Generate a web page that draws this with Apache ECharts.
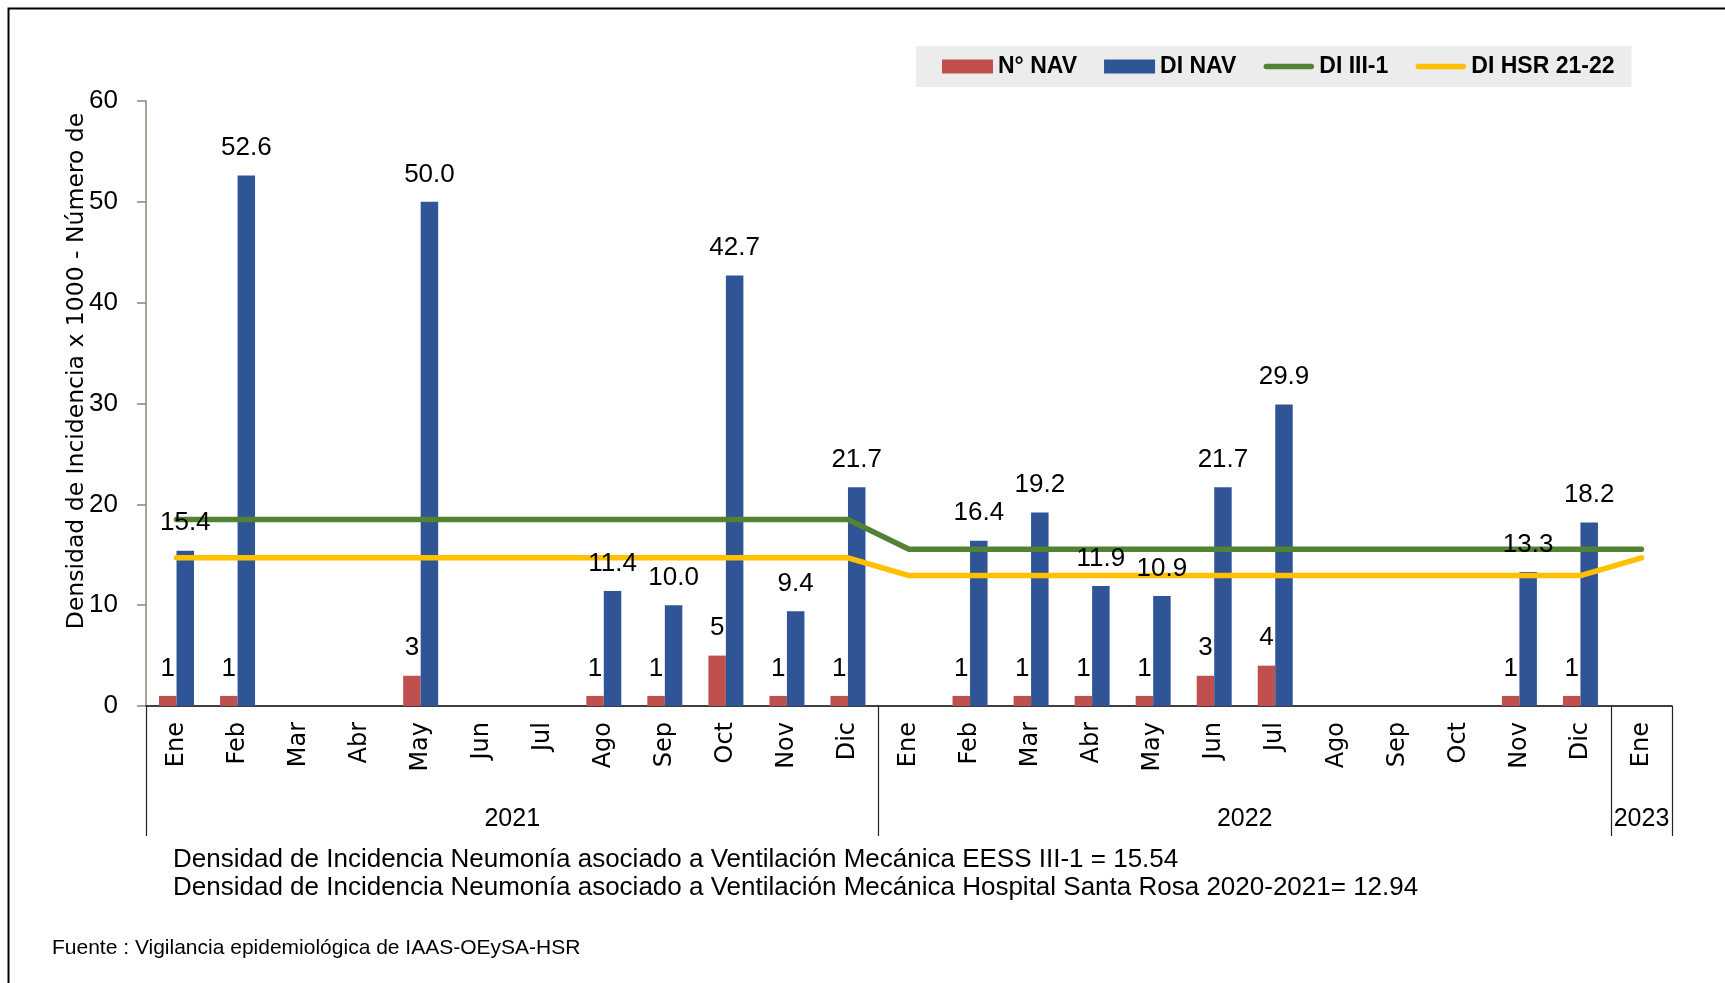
<!DOCTYPE html>
<html>
<head>
<meta charset="utf-8">
<title>Densidad de Incidencia NAV</title>
<script src="https://cdn.jsdelivr.net/npm/echarts@6/dist/echarts.min.js"></script>
<style>
html, body { margin: 0; padding: 0; background: #fff; }
#chart { width: 1725px; height: 983px; }
</style>
</head>
<body>
<div id="chart"></div>
<script>
// meses (eje de categorias) y grupos por año
const months = [
  'Ene', 'Feb', 'Mar', 'Abr', 'May', 'Jun', 'Jul', 'Ago', 'Sep', 'Oct', 'Nov', 'Dic',
  'Ene', 'Feb', 'Mar', 'Abr', 'May', 'Jun', 'Jul', 'Ago', 'Sep', 'Oct', 'Nov', 'Dic',
  'Ene',
]
const years = ['2021', '2022', '2023']
const yearMonths = [12, 12, 1]

// N° NAV
const navCount = [
  1, 1, null, null, 3, null, null, 1, 1, 5, 1, 1,
  null, 1, 1, 1, 1, 3, 4, null, null, null, 1, 1,
  null,
]
// DI NAV
const diNav = [
  15.4, 52.6, null, null, 50.0, null, null, 11.4, 10.0, 42.7, 9.4, 21.7,
  null, 16.4, 19.2, 11.9, 10.9, 21.7, 29.9, null, null, null, 13.3, 18.2,
  null,
]
// DI III-1
const diIII1 = [
  18.5, 18.5, 18.5, 18.5, 18.5, 18.5, 18.5, 18.5, 18.5, 18.5, 18.5, 18.5,
  15.54, 15.54, 15.54, 15.54, 15.54, 15.54, 15.54, 15.54, 15.54, 15.54, 15.54, 15.54,
  15.54,
]
// DI HSR 21-22
const diHsr = [
  14.7, 14.7, 14.7, 14.7, 14.7, 14.7, 14.7, 14.7, 14.7, 14.7, 14.7, 14.7,
  12.94, 12.94, 12.94, 12.94, 12.94, 12.94, 12.94, 12.94, 12.94, 12.94, 12.94, 12.94,
  14.7,
]

const yMin = 0
const yMax = 60
const yStep = 10

const notes = [
  'Densidad de Incidencia Neumonía asociado a Ventilación Mecánica EESS III-1 = 15.54',
  'Densidad de Incidencia Neumonía asociado a Ventilación Mecánica Hospital Santa Rosa 2020-2021= 12.94',
]
const source = 'Fuente : Vigilancia epidemiológica de IAAS-OEySA-HSR'

// inicio y centro de cada año en unidades de categoria
const yearStart = []
const yearMid = []
let acc = 0
yearMonths.forEach((n) => {
  yearStart.push(acc)
  yearMid.push(acc + n / 2)
  acc += n
})

const numFont = 'Liberation Sans, Arial, sans-serif'
const wideFont = 'DejaVu Sans, Verdana, sans-serif'
const barW = 17.5
// icono de linea gruesa con extremos redondos (caja 51 x 14)
const lineIcon = 'path://M0,0M51,14M3,4.25h45a2.75,2.75 0 0 1 0,5.5h-45a2.75,2.75 0 0 1 0,-5.5z'

const labelStyle = {
  show: true,
  position: 'top',
  distance: 14,
  fontFamily: numFont,
  fontSize: 26,
  color: '#000',
}

const option = {
  animation: false,
  backgroundColor: '#fff',
  legend: {
    left: 916,
    top: 46,
    padding: [9, 17, 9, 26],
    backgroundColor: '#ECECEC',
    itemWidth: 51,
    itemHeight: 14,
    itemGap: 27,
    textStyle: {
      fontFamily: numFont,
      fontWeight: 'bold',
      fontSize: 23,
      color: '#000',
    },
    data: [
      { name: 'N° NAV', icon: 'rect' },
      { name: 'DI NAV', icon: 'rect' },
      { name: 'DI III-1', icon: lineIcon },
      { name: 'DI HSR 21-22', icon: lineIcon },
    ],
  },
  grid: {
    left: 146,
    right: 53,
    top: 101,
    bottom: 277,
  },
  xAxis: [
    {
      type: 'category',
      data: months,
      axisLine: { lineStyle: { color: '#000', width: 1.5 } },
      axisTick: {
        show: true,
        length: 130,
        interval: index => yearStart.includes(index),
        lineStyle: { color: '#222', width: 1.2 },
      },
      axisLabel: {
        rotate: 90,
        interval: 0,
        margin: 16,
        fontFamily: wideFont,
        fontSize: 24,
        color: '#000',
      },
    },
    {
      type: 'value',
      position: 'bottom',
      min: 0,
      max: months.length,
      interval: 0.5,
      axisLine: { show: false },
      axisTick: { show: false },
      splitLine: { show: false },
      axisLabel: {
        margin: 101,
        fontFamily: numFont,
        fontSize: 25,
        color: '#000',
        showMinLabel: true,
        showMaxLabel: true,
        formatter: (v) => {
          const i = yearMid.indexOf(v)
          return i >= 0 ? years[i] : ''
        },
      },
    },
  ],
  yAxis: {
    type: 'value',
    min: yMin,
    max: yMax,
    interval: yStep,
    axisLine: { show: true, lineStyle: { color: '#878778', width: 1.5 } },
    axisTick: { show: true, length: 9, lineStyle: { color: '#878778', width: 1.5 } },
    splitLine: { show: false },
    axisLabel: {
      margin: 28,
      fontFamily: numFont,
      fontSize: 26,
      color: '#000',
    },
  },
  series: [
    {
      name: 'N° NAV',
      type: 'bar',
      barWidth: barW,
      barGap: '0%',
      itemStyle: { color: '#C0504D' },
      data: navCount,
    },
    {
      name: 'DI NAV',
      type: 'bar',
      barWidth: barW,
      barGap: '0%',
      itemStyle: { color: '#2F5597' },
      data: diNav,
    },
    {
      name: 'DI III-1',
      type: 'line',
      symbol: 'none',
      z: 3,
      itemStyle: { color: '#548235' },
      lineStyle: { color: '#548235', width: 5.5, cap: 'round', join: 'round' },
      data: diIII1,
    },
    {
      name: 'DI HSR 21-22',
      type: 'line',
      symbol: 'none',
      z: 3,
      itemStyle: { color: '#FFC000' },
      lineStyle: { color: '#FFC000', width: 5.5, cap: 'round', join: 'round' },
      data: diHsr,
    },
    // etiquetas de las barras, por encima de las lineas
    {
      name: 'N° NAV etiquetas',
      type: 'scatter',
      silent: true,
      z: 5,
      symbolSize: 1,
      itemStyle: { color: 'rgba(0,0,0,0)', opacity: 1 },
      label: { ...labelStyle, offset: [-barW / 2, 0] },
      data: navCount,
    },
    {
      name: 'DI NAV etiquetas',
      type: 'scatter',
      silent: true,
      z: 5,
      symbolSize: 1,
      itemStyle: { color: 'rgba(0,0,0,0)', opacity: 1 },
      label: { ...labelStyle, offset: [barW / 2, 0], formatter: p => p.value.toFixed(1) },
      data: diNav,
    },
  ],
  graphic: [
    {
      type: 'rect',
      silent: true,
      shape: { x: 8.5, y: 8.5, width: 2000, height: 2000 },
      style: { fill: 'none', stroke: '#000', lineWidth: 2 },
    },
    {
      type: 'text',
      x: 77,
      y: 371,
      rotation: Math.PI / 2,
      style: {
        text: 'Densidad de Incidencia x 1000 - Número de',
        font: '23.5px ' + wideFont,
        fill: '#000',
        align: 'center',
        verticalAlign: 'middle',
      },
    },
    {
      type: 'text',
      x: 173,
      y: 860,
      style: { text: notes[0], font: '26px ' + numFont, fill: '#000', verticalAlign: 'middle' },
    },
    {
      type: 'text',
      x: 173,
      y: 888,
      style: { text: notes[1], font: '26px ' + numFont, fill: '#000', verticalAlign: 'middle' },
    },
    {
      type: 'text',
      x: 52,
      y: 948,
      style: { text: source, font: '21px ' + numFont, fill: '#000', verticalAlign: 'middle' },
    },
  ],
}

const chart = echarts.init(document.getElementById('chart'))
chart.setOption(option)
</script>
</body>
</html>
